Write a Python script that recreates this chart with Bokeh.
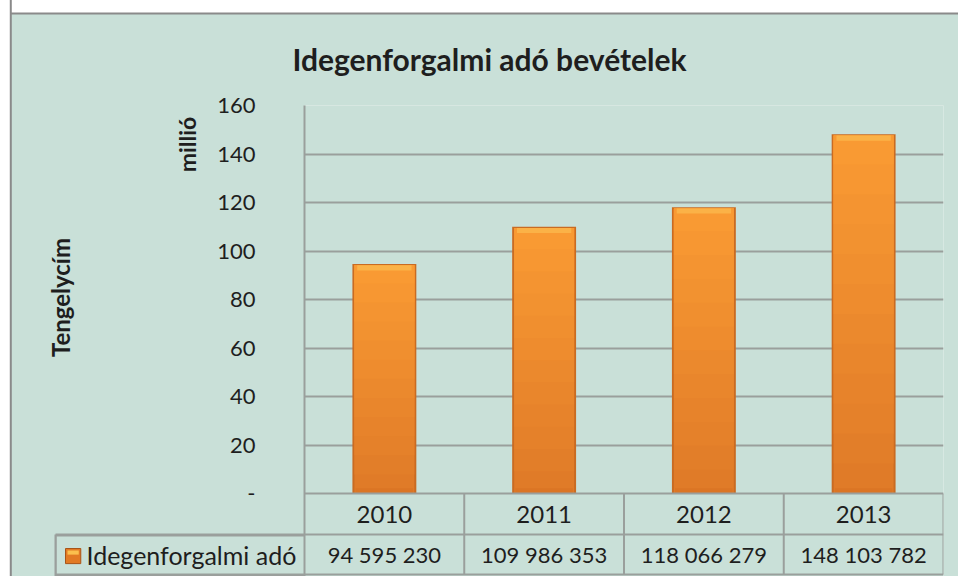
from bokeh.plotting import figure
from bokeh.models import (Range1d, FixedTicker, Label, ColumnDataSource)
from bokeh.core.properties import value
from bokeh.embed import file_html
from bokeh.resources import INLINE
import math

# ---- data ----
years = ["2010", "2011", "2012", "2013"]
revenue = [94595230, 109986353, 118066279, 148103782]
revenue_text = ["94 595 230", "109 986 353", "118 066 279", "148 103 782"]
series_name = "Idegenforgalmi adó"
title_text = "Idegenforgalmi adó bevételek"
y_title = "Tengelycím"
unit_text = "millió"
y_ticks = [0, 20, 40, 60, 80, 100, 120, 140, 160]

# ---- style ----
BG = "#c9e0d8"
GRID = "#9a9f9c"
TXT = "#1e1e1e"
FONT = "Lato"
BAR_LOW = (0xe0, 0x7b, 0x28)
BAR_HIGH = (0xf9, 0x9a, 0x33)

millions = [v / 1e6 for v in revenue]
xs = [i + 0.5 for i in range(len(years))]

# layout geometry (canvas px): frame x 304..943, y 105..576; value 0 at y=493
Y_TOP = 160.0
PX_PER_UNIT = 388.0 / 160.0
Y_BOTTOM = -83.0 / PX_PER_UNIT
ROW1 = -41.0 / PX_PER_UNIT
ROW2 = -81.0 / PX_PER_UNIT
X_PX = 639.0 / 4.0

def ux(px):
    return (px - 304) / X_PX

def uy(py):
    return (493 - py) / PX_PER_UNIT

def box(x0, y0, x1, y1, fill, line=None, lw=1):
    w = int(round(x1 - x0))
    h = int(round(y1 - y0))
    kw = dict(x=ux(x0), y=uy(y0), text=" ", anchor="top_left", text_font_size="1px",
              background_fill_color=fill, border_line_color=line, border_line_width=lw)
    try:
        return Label(padding=dict(left=0, right=w, top=0, bottom=h), **kw)
    except Exception:
        return Label(padding=max(1, min(w, h) // 2), **kw)

p = figure(width=958, height=576, output_backend="svg", toolbar_location=None,
           x_range=Range1d(0, 4), y_range=Range1d(Y_BOTTOM, Y_TOP),
           min_border_left=304, min_border_right=15, min_border_top=105, min_border_bottom=0)
p.background_fill_color = BG
p.border_fill_color = BG
p.outline_line_color = None
p.xaxis.visible = False
p.xgrid.visible = False

yax = p.yaxis[0]
yax.ticker = FixedTicker(ticks=y_ticks)
yax.major_label_overrides = {0: "-"}
yax.major_tick_in = 0
yax.major_tick_out = 0
yax.minor_tick_in = 0
yax.minor_tick_out = 0
yax.axis_line_color = GRID
yax.axis_line_width = 2
yax.major_label_standoff = 49
yax.major_label_text_font = FONT
yax.major_label_text_font_size = "22px"
yax.major_label_text_color = TXT

p.ygrid.ticker = FixedTicker(ticks=y_ticks[1:])
p.ygrid.grid_line_color = GRID
p.ygrid.grid_line_width = 2

# bars: dark rim, overlapping gradient bands, light top bevel
src = ColumnDataSource(dict(x=xs, top=millions))
p.vbar(x="x", top="top", width=0.40, bottom=0, source=src, fill_color="#c96b22", line_color=None)
n_bands = 12
inner_top = [m - 0.5 for m in millions]
for k in range(n_bands):
    t = k / (n_bands - 1)
    col = "#%02x%02x%02x" % tuple(int(round(a + (b - a) * t)) for a, b in zip(BAR_LOW, BAR_HIGH))
    p.vbar(x=xs, bottom=[m * k / n_bands for m in millions], top=inner_top,
           width=0.375, fill_color=col, line_color=None)
p.vbar(x=xs, top=inner_top, bottom=[m - 2.6 for m in millions],
       width=0.34, fill_color="#fbb247", line_color=None)
p.vbar(x=xs, top=[2.2] * len(xs), bottom=0, width=0.36, fill_color="#db7524", line_color=None)

# data table (inside the plot frame)
p.text(x=xs, y=[ROW1 / 2] * len(xs), text=years, text_align="center", text_baseline="middle",
       text_font=value(FONT), text_font_size="24px", text_color=TXT)
p.text(x=xs, y=[(ROW1 + ROW2) / 2] * len(xs), text=revenue_text, text_align="center",
       text_baseline="middle", text_font=value(FONT), text_font_size="22px", text_color=TXT)
for yy in [0, ROW1, ROW2]:
    p.line([0, len(years)], [yy, yy], line_color=GRID, line_width=2)
for i in range(1, len(years) + 1):
    p.line([i, i], [0, ROW2], line_color=GRID, line_width=2)

# ---- items outside the frame (side panels) ----
p.add_layout(Label(x=ux(489), y=uy(58), text=title_text, text_align="center",
                   text_baseline="middle", text_font=FONT, text_font_size="30px",
                   text_font_style="bold", text_color=TXT), "above")
p.add_layout(Label(x=ux(86), y=(ROW1 + ROW2) / 2, text=series_name,
                   text_baseline="middle", text_align="left", text_font=FONT,
                   text_font_size="25px", text_color=TXT), "above")
# white page margin + outer chart border (top)
p.add_layout(box(-6, -6, 966, 12, "white", "#8a8a8a", 2), "above")
# table: first-column cell top and bottom lines
p.add_layout(box(55, 533, 304, 535, GRID), "above")
p.add_layout(box(55, 573, 304, 575, GRID), "above")

p.add_layout(Label(x=ux(186), y=uy(144), text=unit_text, angle=math.pi / 2,
                   text_align="center", text_baseline="middle", text_font=FONT,
                   text_font_size="23px", text_font_style="bold", text_color=TXT), "left")
p.add_layout(Label(x=ux(60), y=uy(297), text=y_title, angle=math.pi / 2,
                   text_align="center", text_baseline="middle", text_font=FONT,
                   text_font_size="24px", text_font_style="bold", text_color=TXT), "left")
# white page margin + outer chart border (left)
p.add_layout(box(-6, -6, 10, 600, "white", "#8a8a8a", 2), "left")
# table: first-column cell left line
p.add_layout(box(54, 534, 56, 575, GRID), "left")
# legend key with its highlight
p.add_layout(box(65, 548, 80, 562, "#e27a24", "#a85418", 1), "left")
p.add_layout(box(67, 550, 78, 553, "#fbc04e"), "left")

open("out.html", "w").write(file_html(p, INLINE))
